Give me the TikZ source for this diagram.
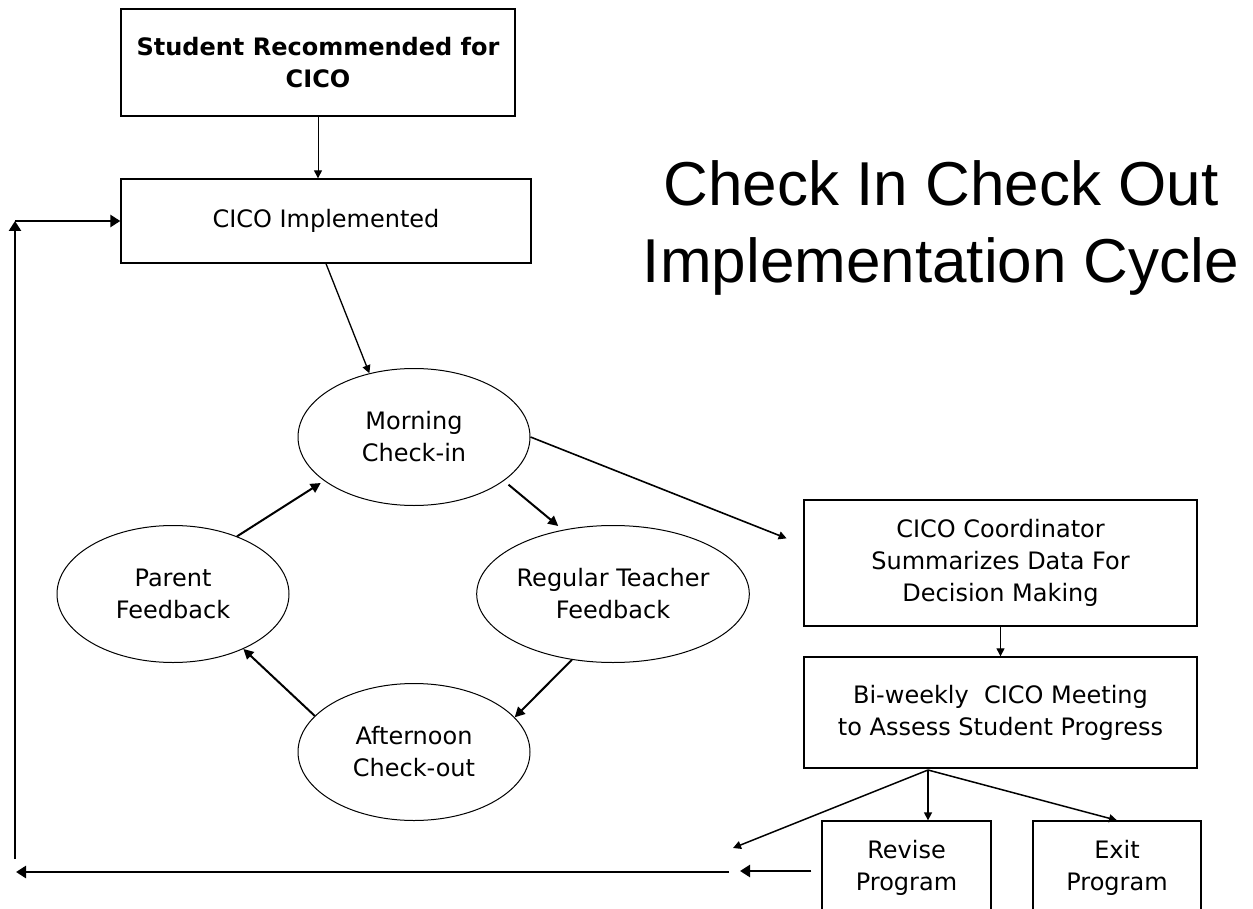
\documentclass[tikz,border=0pt]{standalone}
\usepackage{fontspec}
\setmainfont{DejaVu Sans}
\newfontfamily\titlefont{Liberation Sans}
\usetikzlibrary{arrows.meta,shapes.geometric}

\begin{document}
\begin{tikzpicture}[x=1pt,y=-1pt,
    every node/.style={font=\fontsize{24}{32}\selectfont,align=center,inner sep=0pt},
    box/.style={draw,line width=1.3pt},
    bubble/.style={draw,shape=ellipse,line width=1pt,minimum width=232pt,minimum height=137pt},
    thinarr/.style={line width=1pt,-{Triangle[length=8pt,width=8pt]}},
    cyclearr/.style={line width=2pt,-{Triangle[length=10pt,width=10pt]}},
    looparr/.style={line width=2.6pt,-{Triangle[length=10pt,width=12pt]}}]
    \useasboundingbox (0,0) rectangle (1253,909);
    % boxes down the left
    \node (rec) at (318,62.5) [box,minimum width=394pt,minimum height=107pt] {\bfseries Student Recommended for\\\bfseries CICO};
    \node (impl) at (326,221) [box,minimum width=410pt,minimum height=84pt] {CICO Implemented};
    % title
    \node (title) at (941,228) [font=\titlefont\fontsize{62}{77}\selectfont] {Check In Check Out\\Implementation Cycle};
    % daily cycle
    \node (morning) at (414,437) [bubble] {Morning\\Check-in};
    \node (regular) at (613,594) [bubble] {Regular Teacher\\Feedback};
    \node (afternoon) at (414,752) [bubble] {Afternoon\\Check-out};
    \node (parent) at (173,594) [bubble] {Parent\\Feedback};
    % data boxes on the right
    \node (coord) at (1000.5,563) [box,minimum width=393pt,minimum height=126pt] {CICO Coordinator\\Summarizes Data For\\Decision Making};
    \node (meet) at (1000.5,712.5) [box,minimum width=393pt,minimum height=111pt] {Bi-weekly\ \ CICO Meeting\\to Assess Student Progress};
    \node (revise) at (906.5,868) [box,minimum width=169pt,minimum height=94pt] {Revise\\Program};
    \node (exit) at (1117,868) [box,minimum width=168pt,minimum height=94pt] {Exit\\Program};
    \coordinate (split) at (928,770);
    \coordinate (drop) at (733,848);
    \coordinate (back) at (740,871);
    \coordinate (lowright) at (729,872);
    \coordinate (lowleft) at (16,872);
    \coordinate (upbottom) at (15,859);
    \coordinate (uptop) at (15,221);
    \draw[thinarr] (rec.south -| 318,0) -- (impl.north -| 318,0);
    \draw[thinarr,line width=1.3pt] (impl.south) -- (morning.125);
    \draw[cyclearr,shorten <=6pt,shorten >=6pt] (morning.-26) -- (regular.128);
    \draw[cyclearr] (regular.238) -- (afternoon.19);
    \draw[cyclearr] (afternoon.160) -- (parent.-38);
    \draw[cyclearr,shorten >=4pt] (parent.42) -- (morning.206);
    \draw[thinarr,line width=1.6pt,shorten >=18pt] (morning.east) -- ([yshift=18pt]coord.west);
    \draw[thinarr] (coord.south) -- (meet.north);
    \draw[thinarr,line width=1.5pt] (split) -- (split |- revise.north);
    \draw[thinarr,line width=1.5pt] (split) -- (exit.north);
    \draw[thinarr,line width=1.5pt] (split) -- (drop);
    \draw[looparr,shorten <=10pt] (revise.west |- back) -- (back);
    \draw[looparr] (lowright) -- (lowleft);
    \draw[looparr] (upbottom) -- (uptop);
    \draw[looparr] (uptop) -- (impl.west);
\end{tikzpicture}
\end{document}
